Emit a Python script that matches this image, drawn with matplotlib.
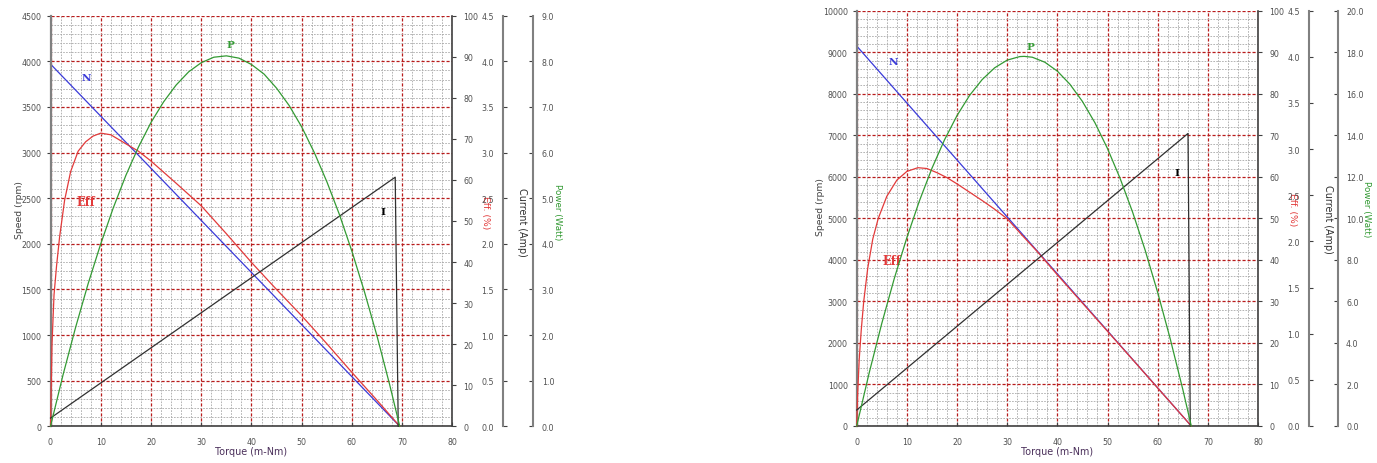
import matplotlib
matplotlib.use('Agg')
import matplotlib.pyplot as plt
from matplotlib.ticker import MultipleLocator, FormatStrFormatter

# ---- left motor ----
l_n_torque = [0, 69.5]
l_speed = [3970, 0]
l_eff_torque = [0, 0.3, 0.7, 1.2, 1.8, 2.8, 4.0, 5.5, 7.0, 8.5, 10.0, 12.0, 15.0, 17.5,
                20, 25, 30, 35, 40, 45, 50, 55, 60, 65, 69.5]
l_eff = [0, 20, 32, 39, 46, 55, 62, 67, 69.3, 70.7, 71.4, 71.0, 68.8, 67.0,
         64.6, 59.2, 53.7, 46.9, 39.9, 33.3, 26.9, 20.1, 13.1, 6.3, 0]
l_pow_torque = [0, 2.5, 5, 7.5, 10, 12.5, 15, 17.5, 20, 22.5, 25, 27.5, 30, 32.5, 35,
                37.5, 40, 42.5, 45, 47.5, 50, 52.5, 55, 57.5, 60, 62.5, 65, 67.5, 69.5]
l_pow = [0, 1.13, 2.17, 3.13, 4.00, 4.79, 5.50, 6.12, 6.66, 7.11, 7.48, 7.77, 7.97, 8.09, 8.12,
         8.07, 7.93, 7.72, 7.41, 7.03, 6.56, 6.00, 5.36, 4.64, 3.83, 2.94, 1.97, 0.91, 0]
l_cur_torque = [0, 68.6, 69.2]
l_cur = [0.09, 2.73, 0]

# ---- right motor ----
r_n_torque = [0, 66.7]
r_speed = [9150, 0]
r_eff_torque = [0, 0.2, 0.5, 0.9, 1.4, 2.2, 3.2, 4.3, 6.0, 8.0, 10, 12.2, 14, 16, 18, 20,
                22.5, 25, 27.5, 30, 33, 36, 40, 45, 50, 55, 60, 63.5, 66.7]
r_eff = [0, 8, 16, 23, 30, 38, 45, 50, 55.3, 59.2, 61.3, 62.2, 62.0, 61.0, 59.8, 58.3,
         56.3, 54.3, 52.2, 49.9, 45.9, 42.0, 36.4, 29.6, 22.8, 16.0, 9.15, 4.38, 0]
r_pow_torque = [0, 2.5, 5, 7.5, 10, 12.5, 15, 17.5, 20, 22.5, 25, 27.5, 30, 32.5, 33.4, 35,
                37.5, 40, 42.5, 45, 47.5, 50, 52.5, 55, 57.5, 60, 62.5, 65, 66.7]
r_pow = [0, 2.57, 4.94, 7.11, 9.07, 10.84, 12.41, 13.78, 14.95, 15.92, 16.68, 17.25, 17.62, 17.79,
         17.80, 17.76, 17.52, 17.09, 16.46, 15.63, 14.60, 13.36, 11.93, 10.30, 8.47, 6.43, 4.20,
         1.77, 0]
r_cur_torque = [0, 66.05, 66.5]
r_cur = [0.173, 3.17, 0]

TICK_COL = '#505050'
TICK_FS = 5.7
BLUE = '#3a3ad8'
RED = '#e23a3a'
GREEN = '#339a33'
BLACK = '#303030'


def style_ticks(axis_obj, direction):
    axis_obj.tick_params(labelsize=TICK_FS, labelcolor=TICK_COL, colors='#404040',
                         direction=direction, length=3, width=0.8)


def draw_chart(fig, rect, n_t, n_v, e_t, e_v, p_t, p_v, c_t, c_v,
               speed_max, speed_step, power_max, power_step,
               cur_x, pow_x, lab_x, tags):
    ax = fig.add_axes(rect)
    ax.set_xlim(0, 80)
    ax.set_ylim(0, speed_max)
    ax.xaxis.set_major_locator(MultipleLocator(10))
    ax.xaxis.set_minor_locator(MultipleLocator(2))
    ax.yaxis.set_major_locator(MultipleLocator(speed_step))
    ax.yaxis.set_minor_locator(MultipleLocator(speed_step / 5))
    ax.grid(which='minor', color='#a8a8a8', linestyle=(0, (2, 1.5)), linewidth=0.6)
    ax.grid(which='major', color='#b81c1c', linestyle=(0, (2.5, 1.5)), linewidth=0.9)
    ax.tick_params(which='minor', length=0)
    style_ticks(ax, 'out')
    ax.tick_params(axis='x', direction='in', pad=8)
    ax.spines['top'].set_visible(False)
    ax.spines['right'].set_visible(False)
    ax.spines['left'].set_color('#808080')
    ax.spines['left'].set_linewidth(1.6)
    ax.spines['bottom'].set_color('#404040')
    ax.spines['bottom'].set_linewidth(1.2)
    ax.plot(n_t, n_v, color=BLUE, lw=0.9, clip_on=False)

    # efficiency axis
    ax_e = ax.twinx()
    ax_e.set_ylim(0, 100)
    ax_e.yaxis.set_major_locator(MultipleLocator(10))
    for s in ['left', 'top', 'bottom']:
        ax_e.spines[s].set_visible(False)
    ax_e.spines['right'].set_color('#404040')
    ax_e.spines['right'].set_linewidth(1.2)
    style_ticks(ax_e, 'out')
    ax_e.tick_params(pad=5)
    ax_e.plot(e_t, e_v, color=RED, lw=0.9, clip_on=False)

    # current axis
    ax_c = ax.twinx()
    ax_c.set_ylim(0, 4.5)
    ax_c.yaxis.set_major_locator(MultipleLocator(0.5))
    ax_c.yaxis.set_major_formatter(FormatStrFormatter('%.1f'))
    for s in ['right', 'top', 'bottom']:
        ax_c.spines[s].set_visible(False)
    ax_c.spines['left'].set_position(('axes', cur_x))
    ax_c.spines['left'].set_color('#808080')
    ax_c.spines['left'].set_linewidth(1.5)
    ax_c.yaxis.tick_left()
    style_ticks(ax_c, 'in')
    ax_c.tick_params(pad=7)
    ax_c.plot(c_t, c_v, color=BLACK, lw=0.9, clip_on=False)

    # power axis
    ax_p = ax.twinx()
    ax_p.set_ylim(0, power_max)
    ax_p.yaxis.set_major_locator(MultipleLocator(power_step))
    ax_p.yaxis.set_major_formatter(FormatStrFormatter('%.1f'))
    for s in ['left', 'top', 'bottom']:
        ax_p.spines[s].set_visible(False)
    ax_p.spines['right'].set_position(('axes', pow_x))
    ax_p.spines['right'].set_color('#808080')
    ax_p.spines['right'].set_linewidth(1.5)
    style_ticks(ax_p, 'in')
    ax_p.tick_params(pad=6)
    ax_p.plot(p_t, p_v, color=GREEN, lw=0.9, clip_on=False)

    # axis titles
    ax.text(lab_x[0], 0.53, 'Speed (rpm)', transform=ax.transAxes, rotation=90,
            ha='center', va='center', fontsize=6.7, color='#404040')
    ax.text(0.5, -0.06, 'Torque (m-Nm)', transform=ax.transAxes,
            ha='center', va='center', fontsize=6.9, color='#4a2f5a')
    ax.text(lab_x[1], 0.524, 'Eff. (%)', transform=ax.transAxes, rotation=270,
            ha='center', va='center', fontsize=6.7, color=RED)
    ax.text(lab_x[2], 0.5, 'Current (Amp)', transform=ax.transAxes, rotation=270,
            ha='center', va='center', fontsize=6.9, color='#303030')
    ax.text(lab_x[3], 0.524, 'Power (Watt)', transform=ax.transAxes, rotation=270,
            ha='center', va='center', fontsize=6.3, color=GREEN)

    # curve tags
    for (txt, x, y, col, fs) in tags:
        ax.text(x, y, txt, ha='center', va='center', fontsize=fs, color=col,
                fontweight='bold', family='DejaVu Serif')
    return ax


fig = plt.figure(figsize=(13.77, 4.64), dpi=100)

draw_chart(fig, [50.5 / 1377, 36.7 / 464, 402 / 1377, 410.6 / 464],
           l_n_torque, l_speed, l_eff_torque, l_eff, l_pow_torque, l_pow,
           l_cur_torque, l_cur, 4500, 500, 9, 1.0,
           1.1264, 1.2010, [-0.078, 1.0833, 1.1729, 1.2624],
           [('N', 7.2, 3825, BLUE, 7.5), ('Eff', 7.0, 2466, RED, 8.3),
            ('P', 35.8, 4179, GREEN, 7.5), ('I', 66.2, 2352, 'black', 7.5)])

draw_chart(fig, [856.7 / 1377, 37.0 / 464, 401.3 / 1377, 415.3 / 464],
           r_n_torque, r_speed, r_eff_torque, r_eff, r_pow_torque, r_pow,
           r_cur_torque, r_cur, 10000, 1000, 20, 2.0,
           1.1278, 1.1986, [-0.091, 1.0865, 1.1744, 1.2709],
           [('N', 7.3, 8782, BLUE, 7.5), ('Eff', 7.0, 3997, RED, 8.3),
            ('P', 34.6, 9134, GREEN, 7.5), ('I', 63.9, 6092, 'black', 7.5)])

fig.savefig('out.png', dpi=100)
